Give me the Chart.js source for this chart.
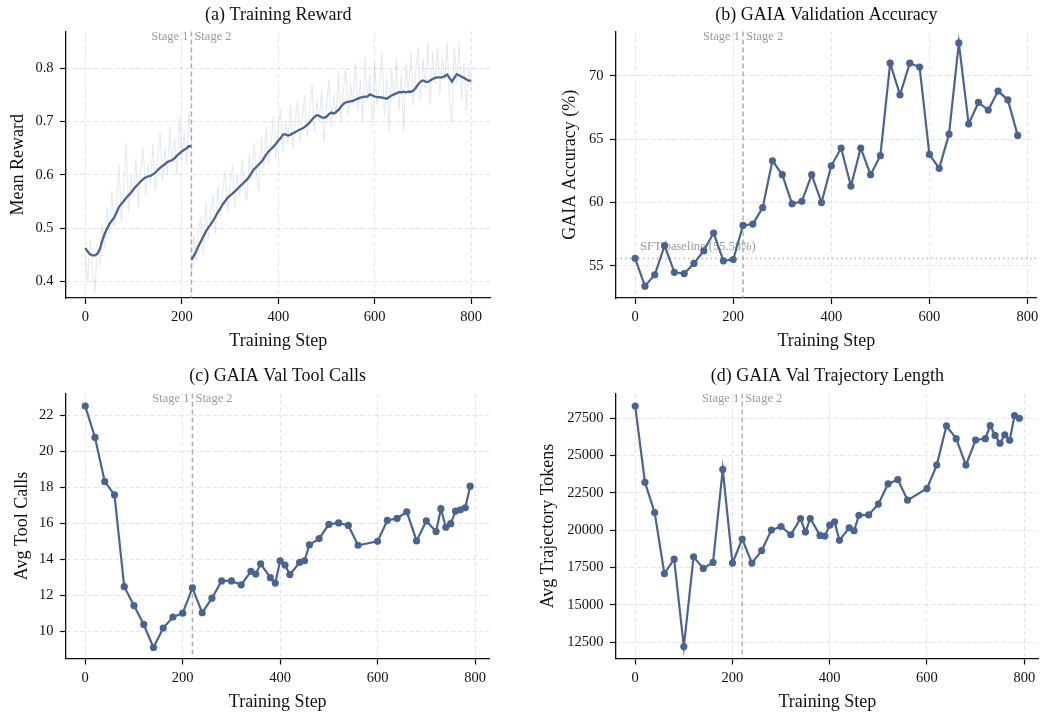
<!DOCTYPE html>
<html>
<head>
<meta charset="utf-8">
<script src="https://cdn.jsdelivr.net/npm/chart.js@4.4.1/dist/chart.umd.min.js"></script>
<style>
html,body{margin:0;padding:0;background:#ffffff;}
#wrap{position:relative;width:1043px;height:715px;overflow:hidden;background:#fff;}
canvas{position:absolute;display:block;}
</style>
</head>
<body>
<div id="wrap">
  <canvas id="cA" width="521" height="360" style="left:0px;top:0px;"></canvas>
  <canvas id="cB" width="522" height="360" style="left:521px;top:0px;"></canvas>
  <canvas id="cC" width="521" height="355" style="left:0px;top:360px;"></canvas>
  <canvas id="cD" width="522" height="355" style="left:521px;top:360px;"></canvas>
</div>
<script>
// ---------------- DATA ----------------
const stageBoundary = 220;
const sftBaseline = 55.58;
const stepTicks = [0, 200, 400, 600, 800];

// (a) Training reward, sampled every 5 steps
const rewardStage1Steps = [0,5,10,15,20,25,30,35,40,45,50,55,60,65,70,75,80,85,90,95,100,105,110,115,120,125,130,135,140,145,150,155,160,165,170,175,180,185,190,195,200,205,210,215,220];
const rewardStage1Smooth = [0.463,0.456,0.451,0.449,0.449,0.452,0.460,0.476,0.489,0.499,
  0.508,0.514,0.520,0.530,0.540,0.546,0.551,0.557,0.562,0.567,
  0.573,0.578,0.583,0.588,0.592,0.595,0.597,0.598,0.601,0.604,
  0.609,0.613,0.617,0.620,0.624,0.626,0.628,0.631,0.636,0.640,
  0.644,0.647,0.650,0.654,0.653];
const rewardStage1Raw = [0.45,0.40,0.48,0.42,0.38,0.47,0.43,0.51,0.46,0.54,
  0.49,0.57,0.50,0.55,0.62,0.51,0.59,0.66,0.53,0.60,
  0.56,0.63,0.54,0.61,0.65,0.56,0.62,0.58,0.66,0.57,
  0.63,0.68,0.59,0.65,0.60,0.69,0.62,0.67,0.60,0.71,
  0.63,0.68,0.62,0.72,0.66];

const rewardStage2Steps = [220,225,230,235,240,245,250,255,260,265,270,275,280,285,290,295,300,305,310,315,
  320,325,330,335,340,345,350,355,360,365,370,375,380,385,390,395,400,405,410,415,
  420,425,430,435,440,445,450,455,460,465,470,475,480,485,490,495,500,505,510,515,
  520,525,530,535,540,545,550,555,560,565,570,575,580,585,590,595,600,605,610,615,
  620,625,630,635,640,645,650,655,660,665,670,675,680,685,690,695,700,705,710,715,
  720,725,730,735,740,745,750,755,760,765,770,775,780,785,790,795,800];
const rewardStage2Smooth = [0.441,0.448,0.457,0.467,0.476,0.485,0.494,0.501,0.507,0.514,
  0.522,0.530,0.537,0.545,0.551,0.557,0.561,0.565,0.569,0.573,
  0.578,0.582,0.587,0.591,0.597,0.604,0.611,0.615,0.620,0.624,
  0.631,0.638,0.644,0.648,0.653,0.658,0.664,0.669,0.676,0.676,
  0.674,0.675,0.678,0.680,0.683,0.685,0.687,0.690,0.694,0.698,
  0.704,0.709,0.712,0.711,0.708,0.707,0.709,0.714,0.717,0.715,
  0.718,0.722,0.728,0.733,0.736,0.737,0.738,0.739,0.741,0.743,
  0.745,0.746,0.747,0.747,0.751,0.749,0.747,0.746,0.746,0.745,
  0.744,0.743,0.746,0.749,0.751,0.753,0.755,0.755,0.756,0.755,
  0.756,0.756,0.758,0.763,0.770,0.775,0.777,0.775,0.774,0.777,
  0.780,0.782,0.783,0.783,0.783,0.785,0.788,0.782,0.775,0.782,
  0.789,0.787,0.784,0.782,0.779,0.777,0.777];
const rewardStage2Raw = [0.41,0.49,0.44,0.50,0.52,0.45,0.55,0.48,0.53,0.56,
  0.49,0.58,0.52,0.57,0.61,0.53,0.58,0.62,0.54,0.60,
  0.56,0.63,0.58,0.55,0.64,0.59,0.66,0.60,0.57,0.67,
  0.61,0.69,0.62,0.66,0.71,0.63,0.69,0.72,0.64,0.70,
  0.66,0.73,0.65,0.70,0.74,0.66,0.71,0.75,0.67,0.72,
  0.77,0.68,0.74,0.70,0.76,0.66,0.73,0.78,0.69,0.75,
  0.71,0.79,0.70,0.76,0.80,0.71,0.77,0.73,0.81,0.72,
  0.78,0.70,0.82,0.74,0.79,0.69,0.81,0.73,0.77,0.83,
  0.71,0.78,0.68,0.80,0.74,0.82,0.72,0.79,0.68,0.81,
  0.75,0.83,0.73,0.80,0.84,0.74,0.82,0.76,0.85,0.73,
  0.83,0.77,0.84,0.75,0.82,0.78,0.85,0.74,0.70,0.84,
  0.77,0.85,0.74,0.81,0.72,0.80,0.76];
const rewardYTicks = [0.4, 0.5, 0.6, 0.7, 0.8];

// (b) GAIA validation accuracy (%)
const accSteps = [0,20,40,60,80,100,120,140,160,180,200,220,240,260,280,300,320,340,360,380,
  400,420,440,460,480,500,520,540,560,580,600,620,640,660,680,700,720,740,760,780];
const accValues = [55.6,53.4,54.3,56.6,54.5,54.4,55.2,56.2,57.6,55.4,
  55.5,58.2,58.3,59.6,63.3,62.2,59.9,60.1,62.2,60.0,
  62.9,64.3,61.3,64.3,62.2,63.7,71.0,68.5,71.0,70.7,
  63.8,62.7,65.4,72.6,66.2,67.9,67.3,68.8,68.1,65.3];
const accYTicks = [55, 60, 65, 70];

// (c) & (d) evaluation steps
const evalSteps = [0,20,40,60,80,100,120,140,160,180,200,220,240,260,280,300,320,340,
  350,360,380,390,400,410,420,440,450,460,480,500,520,540,560,
  600,620,640,660,680,700,720,730,740,750,760,770,780,790];
const toolCalls = [22.53,20.79,18.34,17.6,12.5,11.45,10.4,9.12,10.2,10.81,
  11.03,12.43,11.05,11.86,12.82,12.82,12.6,13.35,
  13.2,13.77,13.0,12.7,13.94,13.7,13.17,13.85,13.94,14.82,15.17,15.96,16.04,15.9,14.8,
  15.02,16.18,16.29,16.66,15.04,16.15,15.56,16.83,15.8,16.0,16.7,16.77,16.88,18.08];
const toolYTicks = [10, 12, 14, 16, 18, 20, 22];

const trajTokens = [28318,23209,21174,17081,18055,12193,18210,17435,17833,24071,
  17789,19404,17789,18630,20001,20245,19692,20776,
  19869,20776,19647,19603,20333,20554,19316,20156,19957,20997,21019,21749,23098,23386,22014,
  22788,24359,26991,26129,24359,26040,26129,27013,26350,25819,26394,26018,27677,27500];
const trajYTicks = [12500, 15000, 17500, 20000, 22500, 25000, 27500];

// ---------------- STYLE ----------------
const FONT = "'Liberation Serif', 'Times New Roman', serif";
const LINE = '#4a6491';
const RAW = 'rgba(74,100,145,0.14)';
const INK = '#111111';

const pts = (xs, ys) => xs.map((x, i) => ({x: x, y: ys[i]}));

const stagePlugin = {
  id: 'stageMarker',
  beforeDatasetsDraw(chart) {
    const {ctx, chartArea, scales} = chart;
    const px = scales.x.getPixelForValue(stageBoundary);
    ctx.save();
    ctx.strokeStyle = 'rgba(150,150,150,0.75)';
    ctx.lineWidth = 1.5;
    ctx.setLineDash([5, 3]);
    ctx.beginPath();
    ctx.moveTo(px, chartArea.top);
    ctx.lineTo(px, chartArea.bottom);
    ctx.stroke();
    ctx.setLineDash([]);
    ctx.font = '12.5px ' + FONT;
    ctx.fillStyle = '#9a9a9a';
    ctx.textBaseline = 'middle';
    ctx.textAlign = 'right';
    ctx.fillText('Stage 1', px - 3, chartArea.top + 5.5);
    ctx.textAlign = 'left';
    ctx.fillText('Stage 2', px + 3, chartArea.top + 5.5);
    ctx.restore();
  }
};

const baselinePlugin = {
  id: 'sftBaseline',
  beforeDatasetsDraw(chart) {
    const {ctx, chartArea, scales} = chart;
    const py = scales.y.getPixelForValue(sftBaseline);
    ctx.save();
    ctx.strokeStyle = 'rgba(170,170,170,0.85)';
    ctx.lineWidth = 1.5;
    ctx.setLineDash([1.5, 3]);
    ctx.beginPath();
    ctx.moveTo(chartArea.left, py);
    ctx.lineTo(chartArea.right, py);
    ctx.stroke();
    ctx.setLineDash([]);
    ctx.font = '12.5px ' + FONT;
    ctx.fillStyle = '#9a9a9a';
    ctx.textBaseline = 'middle';
    ctx.textAlign = 'left';
    ctx.fillText('SFT baseline (' + sftBaseline.toFixed(2) + '%)', scales.x.getPixelForValue(10), py - 11.5);
    ctx.restore();
  }
};

function makeOptions(p) {
  return {
    responsive: false,
    animation: false,
    devicePixelRatio: 1,
    layout: {padding: {left: 0, right: p.padRight, top: 0, bottom: 0}},
    plugins: {
      legend: {display: false},
      tooltip: {enabled: false},
      title: {
        display: true, text: p.title, color: INK, fullSize: false,
        font: {family: FONT, size: 18, weight: 'normal', lineHeight: 1.2},
        padding: {top: p.titleTop, bottom: p.titleBottom}
      }
    },
    scales: {
      x: {
        type: 'linear', min: p.xMin, max: p.xMax,
        afterBuildTicks: s => { s.ticks = stepTicks.map(v => ({value: v})); },
        afterFit: s => { s.height = p.xAxisHeight; },
        ticks: {color: INK, font: {family: FONT, size: 14.5}, padding: 4.5, maxRotation: 0, autoSkip: false,
                callback: v => String(v)},
        grid: {color: 'rgba(0,0,0,0.11)', lineWidth: 1, drawTicks: true, tickLength: 6,
               tickColor: INK, tickWidth: 1.2},
        border: {display: true, color: INK, width: 1.3, dash: [4, 3]},
        title: {display: true, text: 'Training Step', color: INK,
                font: {family: FONT, size: 18, lineHeight: 1.2},
                padding: {top: 0, bottom: p.xTitleBottom}}
      },
      y: {
        type: 'linear', min: p.yMin, max: p.yMax,
        afterBuildTicks: s => { s.ticks = p.yTicks.map(v => ({value: v})); },
        afterFit: s => { s.width = p.yAxisWidth; },
        ticks: {color: INK, font: {family: FONT, size: 14.5}, padding: 6.5, autoSkip: false,
                callback: p.yFmt},
        grid: {color: 'rgba(0,0,0,0.11)', lineWidth: 1, drawTicks: true, tickLength: 6,
               tickColor: INK, tickWidth: 1.2},
        border: {display: true, color: INK, width: 1.3, dash: [4, 3]},
        title: {display: true, text: p.yTitle, color: INK,
                font: {family: FONT, size: 18, lineHeight: 1.2},
                padding: {top: p.yTitlePad, bottom: 0}}
      }
    }
  };
}

function markerLine(data) {
  return {
    data: data, borderColor: LINE, backgroundColor: LINE, borderWidth: 2.2,
    pointRadius: 3.6, pointBackgroundColor: LINE, pointBorderColor: LINE, pointBorderWidth: 0,
    tension: 0, fill: false
  };
}

// (a)
new Chart(document.getElementById('cA'), {
  type: 'line',
  data: {datasets: [
    {data: pts(rewardStage1Steps, rewardStage1Smooth), borderColor: LINE, borderWidth: 2.3, pointRadius: 0, tension: 0, fill: false},
    {data: pts(rewardStage2Steps, rewardStage2Smooth), borderColor: LINE, borderWidth: 2.3, pointRadius: 0, tension: 0, fill: false},
    {data: pts(rewardStage1Steps, rewardStage1Raw), borderColor: RAW, borderWidth: 1.1, pointRadius: 0, tension: 0, fill: false},
    {data: pts(rewardStage2Steps, rewardStage2Raw), borderColor: RAW, borderWidth: 1.1, pointRadius: 0, tension: 0, fill: false}
  ]},
  options: makeOptions({
    title: '(a) Training Reward', titleTop: 4.7, titleBottom: 5.2,
    padRight: 30.5, xMin: -40, xMax: 840, xAxisHeight: 62, xTitleBottom: 7.5,
    yMin: 0.369, yMax: 0.869, yTicks: rewardYTicks, yFmt: v => v.toFixed(1),
    yAxisWidth: 66, yTitle: 'Mean Reward', yTitlePad: 7.2
  }),
  plugins: [stagePlugin]
});

// (b)
new Chart(document.getElementById('cB'), {
  type: 'line',
  data: {datasets: [markerLine(pts(accSteps, accValues))]},
  options: makeOptions({
    title: '(b) GAIA Validation Accuracy', titleTop: 4.7, titleBottom: 5.2,
    padRight: 4, xMin: -39, xMax: 819, xAxisHeight: 62, xTitleBottom: 7.5,
    yMin: 52.47, yMax: 73.5, yTicks: accYTicks, yFmt: v => String(v),
    yAxisWidth: 95, yTitle: 'GAIA Accuracy (%)', yTitlePad: 38.2
  }),
  plugins: [stagePlugin, baselinePlugin]
});

// (c)
new Chart(document.getElementById('cC'), {
  type: 'line',
  data: {datasets: [markerLine(pts(evalSteps, toolCalls))]},
  options: makeOptions({
    title: '(c) GAIA Val Tool Calls', titleTop: 5.2, titleBottom: 6.7,
    padRight: 31.6, xMin: -39.5, xMax: 829.5, xAxisHeight: 56.5, xTitleBottom: 2.2,
    yMin: 8.51, yMax: 23.23, yTicks: toolYTicks, yFmt: v => String(v),
    yAxisWidth: 66, yTitle: 'Avg Tool Calls', yTitlePad: 11.2
  }),
  plugins: [stagePlugin]
});

// (d)
new Chart(document.getElementById('cD'), {
  type: 'line',
  data: {datasets: [markerLine(pts(evalSteps, trajTokens))]},
  options: makeOptions({
    title: '(d) GAIA Val Trajectory Length', titleTop: 5.2, titleBottom: 6.7,
    padRight: 4.4, xMin: -39.5, xMax: 829.5, xAxisHeight: 56.5, xTitleBottom: 2.2,
    yMin: 11395, yMax: 29159, yTicks: trajYTicks, yFmt: v => String(v),
    yAxisWidth: 95, yTitle: 'Avg Trajectory Tokens', yTitlePad: 16.2
  }),
  plugins: [stagePlugin]
});
</script>
</body>
</html>
